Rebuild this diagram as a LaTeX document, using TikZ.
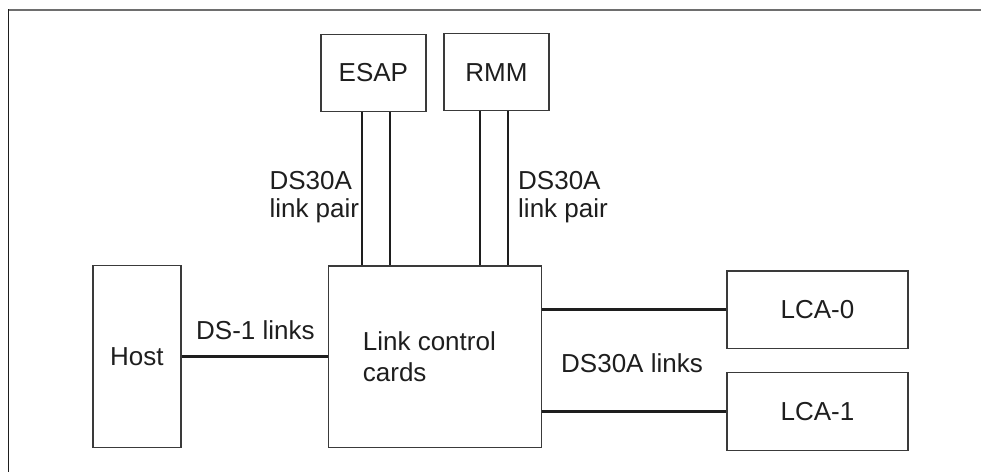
\documentclass[tikz,border=0pt]{standalone}
\usepackage{fontspec}
\setmainfont{Liberation Sans}
\definecolor{edgegray}{HTML}{3A3A3A}
\definecolor{framegray}{HTML}{6E6E6E}
\definecolor{inkdark}{HTML}{1E1E1E}
\begin{document}
\begin{tikzpicture}[x=1pt, y=-1pt,
  every node/.style={text=inkdark, font=\fontsize{26}{31}\selectfont},
  unitbox/.style={draw=edgegray, line width=1.5pt, inner sep=0pt, minimum width=#1},
  lbl/.style={inner sep=0pt, anchor=base west},
  link/.style={draw=inkdark, line width=2.7pt},
  pairlink/.style={draw=inkdark, line width=2.1pt}]
  \useasboundingbox (0,0) rectangle (981,472);

  % partial outer frame (top and left edges)
  \draw[framegray, line width=1.5pt] (8.5,10) -- (981,10);
  \draw[inkdark, line width=1.4pt] (8.5,9.3) -- (8.5,472);

  % blocks
  \node[unitbox=105.3pt, minimum height=77.4pt] (esap) at (373.4,73) {ESAP};
  \node[unitbox=105.3pt, minimum height=77pt] (rmm) at (496.4,72.2) {RMM};
  \node[unitbox=88.3pt, minimum height=182pt] (host) at (136.9,356.7) {Host};
  \node[unitbox=212.6pt, minimum height=181.3pt] (lcc) at (435,356.7) {};
  \node[unitbox=180.7pt, minimum height=77.3pt] (lca0) at (817.4,309.7) {LCA-0};
  \node[unitbox=180.7pt, minimum height=77.6pt] (lca1) at (817.4,411.5) {LCA-1};

  % text inside the link control block
  \node[lbl] (lcc1) at (362.7,350.3) {Link control};
  \node[lbl] (lcc2) at (362.7,381.7) {cards};

  % DS30A link pairs to ESAP and RMM
  \draw[pairlink] ([xshift=-11.4pt]esap.south) -- ([xshift=-11.4pt]esap.south |- lcc.north);
  \draw[pairlink] ([xshift=16.6pt]esap.south) -- ([xshift=16.6pt]esap.south |- lcc.north);
  \draw[pairlink] ([xshift=-16.4pt]rmm.south) -- ([xshift=-16.4pt]rmm.south |- lcc.north);
  \draw[pairlink] ([xshift=11.6pt]rmm.south) -- ([xshift=11.6pt]rmm.south |- lcc.north);

  % host and LCA links
  \draw[link] (host.east) -- (lcc.west |- host.east);
  \draw[link] (lca0.west -| lcc.east) -- (lca0.west);
  \draw[link] (lca1.west -| lcc.east) -- (lca1.west);

  % link labels
  \node[lbl] (pairL1) at (269.3,189.3) {DS30A};
  \node[lbl] (pairL2) at (269.3,217.3) {link pair};
  \node[lbl] (pairR1) at (518,189.3) {DS30A};
  \node[lbl] (pairR2) at (518,217.3) {link pair};
  \node[lbl] (ds1) at (196,339.3) {DS-1 links};
  \node[lbl] (ds30a) at (561,372.3) {DS30A links};
\end{tikzpicture}
\end{document}
